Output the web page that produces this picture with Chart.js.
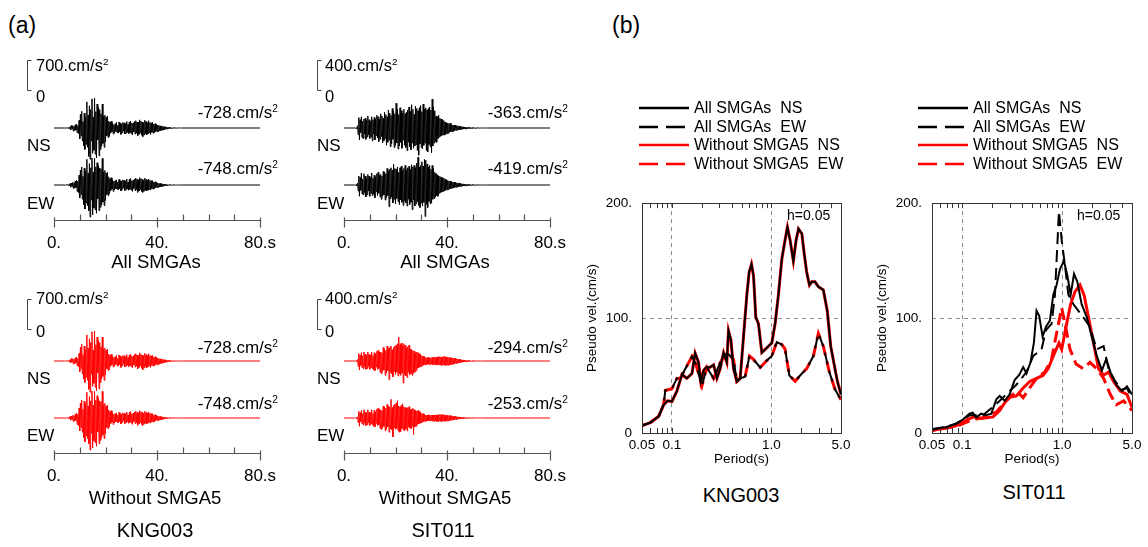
<!DOCTYPE html>
<html>
<head>
<meta charset="utf-8">
<script src="https://cdn.jsdelivr.net/npm/chart.js@4.4.1/dist/chart.umd.min.js"></script>
<style>
  html, body { margin: 0; padding: 0; background: #fff; }
  #fig { position: relative; width: 1148px; height: 547px; overflow: hidden;
         font-family: "Liberation Sans", Arial, Helvetica, sans-serif; color: #000; }
  #fig canvas, #fig svg { position: absolute; }
  .t { position: absolute; white-space: nowrap; line-height: 1; transform: translateY(-50%); }
  .c { transform: translate(-50%, -50%); }
  .r { transform: translate(-100%, -50%); }
  .a { font-size: 17px; }
  .sc { font-size: 16.5px; }
  .cap { font-size: 18.5px; }
  .st { font-size: 20px; }
  .lg { font-size: 16px; }
  .h { font-size: 14px; }
  sup { font-size: 60%; vertical-align: 0.55em; line-height: 0; }
</style>
</head>
<body>
<div id="fig">
  <div class="t" style="left:8px;top:25px;font-size:23px">(a)</div>
  <div class="t" style="left:612px;top:25px;font-size:23px">(b)</div>

  <!-- (a) waveforms -->
  <canvas id="wTL" width="290" height="204" style="left:0;top:50px"></canvas>
  <canvas id="wTR" width="290" height="204" style="left:290px;top:50px"></canvas>
  <canvas id="wBL" width="290" height="204" style="left:0;top:283px"></canvas>
  <canvas id="wBR" width="290" height="204" style="left:290px;top:283px"></canvas>

  <div class="t sc" style="left:36px;top:65px">700.cm/s<sup>2</sup></div>
  <div class="t sc" style="left:36px;top:96px">0</div>
  <div class="t a r" style="left:278px;top:112px">-728.cm/s<sup>2</sup></div>
  <div class="t a" style="left:27px;top:145px">NS</div>
  <div class="t a r" style="left:278px;top:168px">-748.cm/s<sup>2</sup></div>
  <div class="t a" style="left:27px;top:203px">EW</div>
  <div class="t cap c" style="left:156px;top:262px">All SMGAs</div>

  <div class="t sc" style="left:325px;top:65px">400.cm/s<sup>2</sup></div>
  <div class="t sc" style="left:325px;top:96px">0</div>
  <div class="t a r" style="left:568px;top:112px">-363.cm/s<sup>2</sup></div>
  <div class="t a" style="left:317px;top:145px">NS</div>
  <div class="t a r" style="left:568px;top:168px">-419.cm/s<sup>2</sup></div>
  <div class="t a" style="left:317px;top:203px">EW</div>
  <div class="t cap c" style="left:445px;top:262px">All SMGAs</div>

  <div class="t sc" style="left:36px;top:298px">700.cm/s<sup>2</sup></div>
  <div class="t sc" style="left:36px;top:331px">0</div>
  <div class="t a r" style="left:278px;top:347px">-728.cm/s<sup>2</sup></div>
  <div class="t a" style="left:27px;top:378px">NS</div>
  <div class="t a r" style="left:278px;top:403px">-748.cm/s<sup>2</sup></div>
  <div class="t a" style="left:27px;top:435px">EW</div>
  <div class="t cap c" style="left:155px;top:498px">Without SMGA5</div>
  <div class="t st c" style="left:155px;top:530px">KNG003</div>

  <div class="t sc" style="left:325px;top:298px">400.cm/s<sup>2</sup></div>
  <div class="t sc" style="left:325px;top:331px">0</div>
  <div class="t a r" style="left:568px;top:347px">-294.cm/s<sup>2</sup></div>
  <div class="t a" style="left:317px;top:378px">NS</div>
  <div class="t a r" style="left:568px;top:403px">-253.cm/s<sup>2</sup></div>
  <div class="t a" style="left:317px;top:435px">EW</div>
  <div class="t cap c" style="left:445px;top:498px">Without SMGA5</div>
  <div class="t st c" style="left:443px;top:530px">SIT011</div>

  <!-- (b) response spectra -->
  <canvas id="sK" width="275" height="285" style="left:580px;top:185px"></canvas>
  <canvas id="sS" width="276" height="285" style="left:870px;top:185px"></canvas>
  <div class="t h" style="left:787px;top:215px">h=0.05</div>
  <div class="t h" style="left:1077px;top:215px">h=0.05</div>
  <div class="t st c" style="left:741px;top:495px">KNG003</div>
  <div class="t st c" style="left:1034px;top:492px">SIT011</div>

  <div id="legK"></div>
  <div id="legS"></div>
</div>

<script>
// ---- (a) acceleration traces, cm/s^2, sampled every 0.25 s from t = 4 s ----
const traceT0 = 4, traceDt = 0.25, traceEnd = 80;
const timeTicks = [0, 10, 20, 30, 40, 50, 60, 70, 80];
const timeLabels = ['0.', '', '', '', '40.', '', '', '', '80.s'];

const kngNS = [
  0, 1, -2, 3, -2, 4, -6, 8,
  -15, 30, -45, 60, -20, 55, -70, 40,
  -60, 75, -50, 90, -110, 60, -130, 180,
  -250, 320, -180, 390, -300, 150, -420, 350,
  -500, 260, -380, 610, -450, 300, -660, 520,
  -728, 430, -300, 680, -590, 250, -520, 700,
  -610, 380, -700, 560, -280, 480, -650, 430,
  -500, 330, -420, 560, -360, 280, -450, 300,
  -320, 250, -180, 280, -220, 160, -200, 140,
  -120, 160, -90, 110, -140, 80, -120, 100,
  -80, 130, -110, 60, -120, 140, -90, 110,
  -150, 90, -110, 130, -70, 120, -140, 100,
  -120, 150, -100, 80, -130, 140, -110, 160,
  -130, 110, -160, 120, -90, 150, -140, 170,
  -120, 140, -180, 130, -150, 190, -110, 160,
  -170, 140, -200, 120, -160, 180, -130, 150,
  -160, 120, -140, 170, -110, 130, -150, 120,
  -100, 130, -120, 90, -110, 100, -80, 90,
  -90, 70, -80, 60, -70, 50, -60, 45,
  -50, 40, -45, 30, -35, 28, -25, 20,
  -22, 18, -15, 14, -12, 10, -9, 8,
  -7, 6, -5, 5, -4, 3, -3, 2,
  -2, 2, -1, 1, -1, 1, 0, 0
];
const kngEW = [
  0, 2, -3, 4, -3, 6, -8, 10,
  -20, 35, -50, 45, -30, 60, -80, 55,
  -70, 90, -60, 110, -150, 90, -180, 230,
  -300, 350, -220, 420, -330, 200, -460, 390,
  -560, 330, -420, 600, -480, 280, -600, 500,
  -748, 400, -350, 630, -700, 300, -540, 620,
  -580, 420, -660, 520, -320, 460, -600, 400,
  -520, 380, -460, 620, -400, 300, -480, 340,
  -360, 280, -220, 300, -250, 190, -210, 150,
  -130, 170, -100, 120, -150, 90, -110, 100,
  -90, 120, -100, 70, -110, 130, -80, 100,
  -140, 80, -100, 120, -60, 110, -130, 90,
  -110, 140, -90, 70, -120, 130, -100, 150,
  -120, 100, -150, 110, -80, 140, -130, 160,
  -110, 130, -170, 120, -140, 170, -100, 150,
  -150, 130, -170, 110, -140, 160, -120, 130,
  -140, 110, -120, 140, -100, 110, -120, 100,
  -90, 100, -95, 70, -85, 75, -60, 65,
  -60, 50, -55, 40, -45, 35, -40, 30,
  -32, 26, -28, 20, -22, 18, -15, 12,
  -12, 10, -8, 8, -6, 5, -5, 4,
  -3, 3, -2, 2, -2, 1, -1, 1,
  -1, 1, 0, 0, 0, 0, 0, 0
];
// KNG003 without SMGA5 is identical to the all-SMGA traces
const kngNSw = kngNS;
const kngEWw = kngEW;

const sitNS = [
  0, 1, -2, 3, -8, 30, -90, 140,
  -160, 110, -60, 150, -130, 90, -140, 120,
  -80, 130, -150, 100, -120, 160, -90, 110,
  -140, 90, -120, 150, -170, 110, -80, 140,
  -160, 120, -100, 170, -130, 150, -180, 120,
  -150, 190, -110, 160, -200, 130, -170, 210,
  -140, 180, -230, 150, -190, 240, -160, 200,
  -250, 170, -210, 260, -150, 220, -260, 190,
  -230, 330, -200, 250, -280, 180, -240, 270,
  -190, 230, -270, 200, -160, 250, -230, 190,
  -260, 210, -300, 240, -190, 280, -250, 220,
  -290, 310, -200, 250, -270, 180, -240, 290,
  -220, 260, -300, 230, -363, 270, -210, 300,
  -260, 220, -280, 320, -230, 250, -200, 270,
  -300, 240, -320, 260, -220, 280, -250, 240,
  -330, 385, -240, 280, -200, 230, -180, 160,
  -190, 150, -140, 170, -120, 130, -110, 120,
  -100, 110, -90, 100, -95, 80, -85, 70,
  -75, 65, -70, 60, -55, 65, -50, 45,
  -50, 40, -45, 38, -35, 40, -30, 32,
  -28, 30, -25, 22, -24, 20, -18, 20,
  -16, 15, -14, 12, -13, 11, -10, 9,
  -9, 8, -8, 7, -6, 6, -5, 5,
  -5, 4, -4, 3, -3, 3, -2, 2,
  -2, 2, -2, 1, -1, 1, -1, 1,
  -1, 1, 0, 0, 0, 0, 0, 0
];
const sitEW = [
  0, 1, -2, 4, -10, 25, -80, 120,
  -150, 100, -70, 160, -120, 80, -130, 150,
  -100, 120, -160, 90, -130, 140, -80, 120,
  -150, 100, -110, 160, -140, 90, -120, 130,
  -170, 110, -90, 150, -140, 170, -110, 130,
  -160, 140, -190, 120, -150, 180, -130, 170,
  -200, 150, -170, 220, -140, 190, -290, 210,
  -180, 230, -160, 200, -240, 280, -190, 220,
  -250, 210, -180, 240, -220, 170, -260, 230,
  -200, 250, -230, 190, -270, 220, -210, 260,
  -240, 200, -280, 230, -190, 250, -260, 210,
  -230, 270, -330, 240, -200, 260, -280, 230,
  -250, 290, -220, 370, -270, 240, -300, 260,
  -240, 310, -280, 250, -230, 340, -419, 330,
  -260, 280, -300, 240, -220, 260, -250, 210,
  -240, 260, -190, 220, -180, 170, -160, 150,
  -140, 130, -150, 120, -110, 115, -100, 105,
  -95, 90, -85, 95, -80, 75, -70, 72,
  -65, 60, -62, 55, -50, 52, -48, 45,
  -42, 40, -38, 36, -34, 35, -30, 28,
  -26, 28, -24, 22, -20, 21, -18, 17,
  -15, 14, -13, 12, -12, 10, -9, 9,
  -8, 8, -7, 6, -6, 5, -5, 5,
  -4, 4, -4, 3, -3, 3, -2, 2,
  -2, 2, -2, 1, -1, 1, -1, 1,
  -1, 1, 0, 0, 0, 0, 0, 0
];
const sitNSw = [
  0, 1, -2, 3, -6, 20, -70, 100,
  -120, 80, -60, 110, -90, 70, -100, 120,
  -70, 90, -110, 80, -100, 120, -70, 90,
  -110, 80, -90, 120, -100, 70, -120, 110,
  -130, 90, -80, 130, -110, 140, -100, 120,
  -150, 120, -170, 110, -140, 180, -120, 160,
  -190, 140, -160, 200, -130, 170, -250, 180,
  -150, 200, -170, 150, -210, 180, -140, 200,
  -180, 210, -150, 230, -200, 320, -170, 220,
  -190, 240, -160, 200, -294, 230, -180, 210,
  -200, 170, -220, 190, -150, 210, -180, 160,
  -170, 150, -190, 140, -160, 130, -150, 110,
  -130, 120, -100, 110, -90, 95, -80, 85,
  -75, 70, -60, 65, -55, 60, -50, 45,
  -50, 45, -42, 48, -45, 40, -50, 45,
  -40, 48, -52, 45, -50, 55, -45, 50,
  -55, 50, -48, 58, -52, 60, -55, 50,
  -60, 55, -50, 62, -55, 58, -60, 52,
  -55, 50, -58, 48, -52, 45, -50, 42,
  -45, 40, -42, 38, -36, 35, -32, 30,
  -28, 27, -25, 24, -22, 20, -18, 17,
  -15, 14, -13, 12, -11, 10, -9, 8,
  -7, 7, -6, 6, -5, 5, -4, 4,
  -4, 3, -3, 3, -2, 2, -2, 2,
  -1, 1, -1, 1, -1, 1, 0, 0
];
const sitEWw = [
  0, 1, -2, 3, -5, 15, -60, 90,
  -110, 70, -50, 100, -80, 60, -90, 110,
  -60, 80, -100, 70, -90, 110, -60, 80,
  -100, 70, -80, 110, -90, 60, -110, 100,
  -120, 80, -70, 120, -100, 130, -90, 110,
  -140, 110, -150, 100, -130, 160, -110, 150,
  -170, 130, -150, 180, -120, 160, -190, 150,
  -140, 250, -160, 140, -253, 170, -130, 180,
  -150, 200, -140, 230, -170, 160, -190, 150,
  -180, 170, -140, 190, -160, 150, -170, 140,
  -150, 130, -170, 140, -120, 150, -130, 110,
  -140, 120, -110, 130, -220, 110, -120, 100,
  -110, 95, -90, 100, -80, 85, -70, 75,
  -65, 60, -55, 58, -48, 50, -45, 40,
  -42, 38, -40, 42, -38, 35, -40, 38,
  -35, 40, -42, 38, -45, 40, -38, 42,
  -45, 40, -48, 45, -40, 50, -45, 42,
  -48, 44, -40, 46, -42, 40, -44, 38,
  -40, 36, -38, 34, -35, 32, -30, 30,
  -28, 26, -25, 24, -22, 20, -19, 18,
  -17, 16, -14, 14, -12, 11, -10, 10,
  -9, 8, -8, 7, -6, 6, -5, 5,
  -4, 4, -4, 3, -3, 3, -2, 2,
  -2, 2, -1, 1, -1, 1, -1, 1,
  0, 0, 0, 0, 0, 0, 0, 0
];

// ---- (b) pseudo velocity response spectra, h = 0.05 ----
const periodTicks = [0.05, 0.06, 0.07, 0.08, 0.09, 0.1, 0.2, 0.3, 0.4, 0.5, 0.6, 0.7, 0.8, 0.9, 1, 2, 3, 4, 5];
const periodTickLabels = ['0.05', '', '', '', '', '0.1', '', '', '', '', '', '', '', '', '1.0', '', '', '', '5.0'];
const velTicks = [0, 100, 200];
const velTickLabels = ['0', '100.', '200.'];

const kngPerNS = [0.05, 0.0606, 0.0735, 0.0825, 0.0905, 0.1, 0.112, 0.126, 0.141, 0.159, 0.171, 0.185, 0.195, 0.208, 0.221, 0.242, 0.262, 0.283, 0.305, 0.33, 0.356, 0.37, 0.391, 0.416, 0.449, 0.485, 0.524, 0.566, 0.597, 0.63, 0.66, 0.696, 0.74, 0.8, 0.864, 0.933, 1.008, 1.088, 1.175, 1.27, 1.37, 1.447, 1.54, 1.66, 1.77, 1.87, 2.02, 2.13, 2.26, 2.41, 2.54, 2.74, 2.96, 3.32, 3.64, 3.94, 4.29, 4.6, 5.0];
const kngVelNS = [6.4, 9.0, 14.5, 24.6, 28, 27.4, 36.4, 50.9, 47.6, 51.7, 69.4, 61.5, 44.8, 54.5, 57.3, 57.3, 59.3, 47.6, 55.9, 69.9, 61.5, 89, 81.1, 55.9, 44.8, 47.6, 83.9, 120.3, 139.9, 146.9, 137, 100.7, 95.1, 69.9, 72.7, 75.5, 78.3, 95.1, 120.3, 151, 167.8, 179, 167.8, 149.7, 167.8, 177.6, 173.4, 156.6, 139.9, 128.7, 131.5, 131.5, 127.3, 124.5, 106.3, 75.5, 58.7, 44.8, 33.6];
const kngPerEW = [0.05, 0.0606, 0.0735, 0.0825, 0.0857, 0.1, 0.112, 0.121, 0.159, 0.174, 0.2, 0.224, 0.262, 0.305, 0.343, 0.37, 0.416, 0.449, 0.485, 0.544, 0.601, 0.66, 0.77, 0.898, 1.008, 1.131, 1.27, 1.37, 1.515, 1.73, 1.94, 2.26, 2.64, 2.96, 3.32, 3.82, 4.35, 5.0];
const kngVelEW = [6.4, 9.0, 14.5, 24.6, 37, 38.6, 47.5, 47.5, 66.6, 60, 41, 57, 47.5, 61, 68.5, 68.5, 64, 45, 47.5, 49, 67, 64, 57, 63, 67, 79, 77, 73, 50, 45, 50, 56, 67, 86.7, 75.5, 53, 38, 29];
// KNG003 without SMGA5 overlays the all-SMGA spectra
const kngVelNSw = kngVelNS;
const kngVelEWw = kngVelEW;

const sitPerNS = [0.05, 0.0691, 0.0871, 0.1017, 0.1186, 0.128, 0.138, 0.155, 0.174, 0.196, 0.22, 0.2375, 0.267, 0.299, 0.336, 0.371, 0.408, 0.44, 0.483, 0.522, 0.555, 0.59, 0.638, 0.689, 0.755, 0.816, 0.881, 0.952, 1.044, 1.128, 1.218, 1.316, 1.42, 1.57, 1.765, 1.98, 2.22, 2.5, 2.76, 3.08, 3.48, 3.97, 4.45, 5.0];
const sitVelNS = [3.4, 5, 8.4, 11.7, 16.8, 17.6, 13.4, 16.8, 15.4, 16.8, 29.4, 32.2, 28, 33.6, 46.2, 50.3, 57.3, 51.7, 61.5, 78.3, 106.3, 102, 83.9, 92.3, 97.9, 120.3, 128.7, 142.7, 149.7, 137, 120.3, 138.5, 131.5, 111.9, 100.7, 83.9, 67.1, 54.5, 64.3, 51.7, 42, 36.4, 40.6, 33.6];
const sitPerEW = [0.05, 0.0871, 0.1186, 0.161, 0.22, 0.277, 0.349, 0.44, 0.514, 0.623, 0.689, 0.785, 0.848, 0.93, 0.99, 1.069, 1.155, 1.3, 1.455, 1.63, 1.9, 2.22, 2.6, 2.91, 3.4, 3.97, 4.45, 5.0];
const sitVelEW = [2.8, 7.8, 15.4, 15.4, 25.2, 33.6, 42, 53, 67, 72.7, 89.5, 95, 120, 193, 167.8, 145.5, 120.3, 112, 106.3, 100.7, 92.3, 72.7, 75.5, 56, 44.8, 37.8, 39, 30.8];
const sitPerNSw = [0.05, 0.0871, 0.1186, 0.133, 0.155, 0.204, 0.2375, 0.288, 0.349, 0.408, 0.475, 0.555, 0.648, 0.727, 0.816, 0.93, 0.99, 1.11, 1.218, 1.347, 1.51, 1.66, 1.835, 2.06, 2.31, 2.6, 2.91, 3.27, 3.82, 4.45, 5.0];
const sitVelNSw = [2.2, 6.2, 12.6, 14, 12.6, 14, 19.6, 30.8, 32.2, 39.2, 44.8, 47.6, 50.3, 56, 67, 78.3, 72.7, 95, 112, 123, 128.7, 120, 100.7, 78.3, 56, 50.3, 53, 44.8, 36.4, 33.6, 22.4];
const sitPerEWw = [0.05, 0.0871, 0.1186, 0.161, 0.22, 0.277, 0.349, 0.408, 0.475, 0.555, 0.672, 0.785, 0.881, 0.99, 1.069, 1.2, 1.38, 1.63, 1.9, 2.22, 2.6, 3.03, 3.48, 4.12, 5.0];
const sitVelEWw = [2.2, 5.6, 10.6, 13.4, 18.2, 28, 36.4, 30.8, 39.2, 47.6, 53, 64.3, 86.7, 109, 95, 72.7, 60, 56, 61.5, 56, 47.6, 33.6, 24.6, 28, 19.6];

const legendItems = ['All SMGAs\u00a0\u00a0NS', 'All SMGAs\u00a0\u00a0EW', 'Without SMGA5\u00a0\u00a0NS', 'Without SMGA5\u00a0\u00a0EW'];

Chart.defaults.font.family = '"Liberation Sans", Arial, Helvetica, sans-serif';
Chart.defaults.color = '#000';

// trace area layout (canvas px)
const waveArea = 170, barPx = 30, nsBase = 78, ewBase = 135;

function toTrace(vals) {
  const pts = [{ x: 0, y: 0 }];
  vals.forEach((v, i) => pts.push({ x: traceT0 + i * traceDt, y: v }));
  pts.push({ x: traceEnd, y: 0 });
  return pts;
}

function ampRange(full, base) {
  const k = full / barPx;
  return { min: -(waveArea - base) * k, max: base * k };
}

// time axis with long ticks at labelled values
const timeAxis = {
  id: 'timeAxis',
  beforeDatasetsDraw(chart) {
    const { ctx, chartArea, scales: { x } } = chart;
    const y0 = chartArea.bottom + 0.5;
    ctx.save();
    ctx.strokeStyle = '#555';
    ctx.lineWidth = 1.2;
    ctx.beginPath();
    ctx.moveTo(x.getPixelForValue(timeTicks[0]), y0);
    ctx.lineTo(x.getPixelForValue(timeTicks[timeTicks.length - 1]), y0);
    timeTicks.forEach((v, i) => {
      const px = Math.round(x.getPixelForValue(v)) + 0.5;
      if (timeLabels[i]) { ctx.moveTo(px, y0 - 3); ctx.lineTo(px, y0 + 7); }
      else { ctx.moveTo(px, y0 - 6); ctx.lineTo(px, y0); }
    });
    ctx.stroke();
    ctx.restore();
  }
};

// amplitude scale bracket, sized from the NS axis
const scaleBar = {
  id: 'scaleBar',
  afterDraw(chart, args, opts) {
    const { ctx, scales: { yNS } } = chart;
    const h = yNS.getPixelForValue(0) - yNS.getPixelForValue(opts.value);
    const x = opts.x + 0.5, b = opts.bottom + 0.5;
    ctx.save();
    ctx.strokeStyle = '#444';
    ctx.lineWidth = 1;
    ctx.beginPath();
    ctx.moveTo(x + 4, b - h);
    ctx.lineTo(x, b - h);
    ctx.lineTo(x, b);
    ctx.lineTo(x + 4, b);
    ctx.stroke();
    ctx.restore();
  }
};

function waveChart(id, ns, ew, color, full, barBottom) {
  const line = { borderColor: color, borderWidth: 1, pointRadius: 0, tension: 0, clip: false };
  new Chart(document.getElementById(id), {
    type: 'line',
    data: {
      datasets: [
        { ...line, data: toTrace(ns), yAxisID: 'yNS' },
        { ...line, data: toTrace(ew), yAxisID: 'yEW' }
      ]
    },
    options: {
      responsive: false, animation: false, events: [],
      layout: { padding: { left: 54, right: 30, top: 0, bottom: 0 } },
      plugins: {
        legend: { display: false }, tooltip: { enabled: false },
        scaleBar: { value: full, x: 27, bottom: barBottom }
      },
      scales: {
        x: {
          type: 'linear', min: 0, max: traceEnd,
          afterBuildTicks: s => { s.ticks = timeTicks.map(v => ({ value: v })); },
          afterFit: s => { s.height = 34; },
          grid: { display: false, drawTicks: false },
          border: { display: false },
          ticks: {
            autoSkip: false, maxRotation: 0, padding: 13, font: { size: 17 },
            callback: v => timeLabels[timeTicks.indexOf(v)] || ''
          }
        },
        yNS: { display: false, ...ampRange(full, nsBase) },
        yEW: { display: false, ...ampRange(full, ewBase) }
      }
    },
    plugins: [timeAxis, scaleBar]
  });
}

waveChart('wTL', kngNS, kngEW, '#000', 700, 40);
waveChart('wTR', sitNS, sitEW, '#000', 400, 40);
waveChart('wBL', kngNSw, kngEWw, '#ff0000', 700, 46);
waveChart('wBR', sitNSw, sitEWw, '#ff0000', 400, 46);

// frame and inward minor ticks of the spectra boxes
const frame = {
  id: 'frame',
  afterDatasetsDraw(chart) {
    const { ctx, chartArea: a, scales: { x } } = chart;
    ctx.save();
    ctx.strokeStyle = '#333';
    ctx.lineWidth = 1;
    ctx.strokeRect(Math.round(a.left) + 0.5, Math.round(a.top) + 0.5, Math.round(a.width), Math.round(a.height));
    ctx.beginPath();
    periodTicks.forEach(v => {
      const px = Math.round(x.getPixelForValue(v)) + 0.5;
      ctx.moveTo(px, a.bottom); ctx.lineTo(px, a.bottom - 5);
      ctx.moveTo(px, a.top); ctx.lineTo(px, a.top + 5);
    });
    ctx.stroke();
    ctx.restore();
  }
};

const pair = (ps, vs) => ps.map((p, i) => ({ x: p, y: vs[i] }));
const dash = [12, 6];

function specChart(id, nsP, nsV, ewP, ewV, nsPw, nsVw, ewPw, ewVw) {
  const base = { pointRadius: 0, tension: 0, fill: false };
  const axisFont = { size: 13.5 };
  const dashedGrid = (vals) => c => (c.tick && vals.includes(c.tick.value)) ? '#8a8a8a' : 'rgba(0,0,0,0)';
  new Chart(document.getElementById(id), {
    type: 'line',
    data: {
      datasets: [
        { ...base, data: pair(nsP, nsV), borderColor: '#000', borderWidth: 2 },
        { ...base, data: pair(ewP, ewV), borderColor: '#000', borderWidth: 2, borderDash: dash },
        { ...base, data: pair(nsPw, nsVw), borderColor: '#ff0000', borderWidth: 3 },
        { ...base, data: pair(ewPw, ewVw), borderColor: '#ff0000', borderWidth: 3, borderDash: dash, borderDashOffset: 9 }
      ]
    },
    options: {
      responsive: false, animation: false, events: [],
      layout: { padding: { left: 0, right: 14, top: 10, bottom: 0 } },
      plugins: { legend: { display: false }, tooltip: { enabled: false } },
      scales: {
        x: {
          type: 'logarithmic', min: 0.05, max: 5,
          afterBuildTicks: s => { s.ticks = periodTicks.map(v => ({ value: v })); },
          afterFit: s => { s.height = 37; },
          grid: { drawTicks: false, color: dashedGrid([0.1, 1]) },
          border: { display: false, dash: [4, 4] },
          ticks: {
            autoSkip: false, maxRotation: 0, padding: 4, font: axisFont,
            callback: v => periodTickLabels[periodTicks.indexOf(v)] || ''
          },
          title: { display: true, text: 'Period(s)', font: axisFont, padding: { top: 0, bottom: 3 } }
        },
        y: {
          min: 0, max: 200,
          afterBuildTicks: s => { s.ticks = velTicks.map(v => ({ value: v })); },
          afterFit: s => { s.width = 62; },
          grid: { drawTicks: false, color: dashedGrid([100]) },
          border: { display: false, dash: [4, 4] },
          ticks: {
            padding: 10, font: axisFont,
            callback: v => velTickLabels[velTicks.indexOf(v)] || ''
          },
          title: { display: true, text: 'Pseudo vel.(cm/s)', font: axisFont, padding: { top: 4.5, bottom: 0 } }
        }
      }
    },
    plugins: [frame]
  });
}

specChart('sK', kngPerNS, kngVelNS, kngPerEW, kngVelEW, kngPerNS, kngVelNSw, kngPerEW, kngVelEWw);
specChart('sS', sitPerNS, sitVelNS, sitPerEW, sitVelEW, sitPerNSw, sitVelNSw, sitPerEWw, sitVelEWw);

// legends above the spectra
function legend(el, lineLeft, textLeft) {
  const styles = [
    { c: '#000', d: '' }, { c: '#000', d: '19 8' },
    { c: '#ff0000', d: '' }, { c: '#ff0000', d: '19 8' }
  ];
  const rows = [108, 126.5, 145, 163.5];
  let html = '';
  legendItems.forEach((txt, i) => {
    const s = styles[i];
    const w = s.d ? 46 : 50;
    html += `<svg width="${w}" height="6" style="left:${lineLeft}px;top:${rows[i] - 3}px">` +
      `<line x1="0" y1="3" x2="${w}" y2="3" stroke="${s.c}" stroke-width="2.6"` +
      (s.d ? ` stroke-dasharray="${s.d}"` : '') + `/></svg>` +
      `<div class="t lg" style="left:${textLeft}px;top:${rows[i]}px">${txt}</div>`;
  });
  document.getElementById(el).outerHTML = html;
}
legend('legK', 639, 694);
legend('legS', 918, 973);
</script>
</body>
</html>
